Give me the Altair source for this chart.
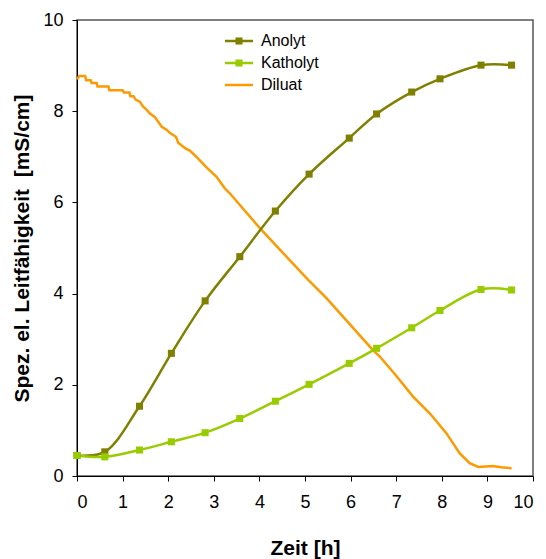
import altair as alt
import pandas as pd

# --- data ---
t_pts = [0, 0.61, 1.37, 2.07, 2.81, 3.57, 4.35, 5.09, 5.97, 6.57, 7.34, 7.96, 8.86, 9.53]
anolyt = [0.45, 0.53, 1.53, 2.69, 3.84, 4.81, 5.81, 6.62, 7.41, 7.94, 8.42, 8.71, 9.01, 9.01]
katholyt = [0.45, 0.42, 0.57, 0.75, 0.95, 1.26, 1.64, 2.01, 2.47, 2.80, 3.25, 3.63, 4.09, 4.08]

t_dil = [0.0, 0.05, 0.18, 0.2, 0.3, 0.32, 0.43, 0.45, 0.69, 0.71, 1.0, 1.03, 1.15, 1.17,
         1.24, 1.29, 1.38, 1.44, 1.53, 1.6, 1.71, 1.78, 1.86, 1.97, 2.04, 2.17, 2.22,
         2.37, 2.48, 2.62, 2.84, 3.06, 3.24, 3.35, 3.6, 4.05, 4.5, 5.07, 5.47, 6.0,
         6.49, 6.64, 7.0, 7.37, 7.74, 8.1, 8.39, 8.61, 8.8, 9.12, 9.3, 9.53]
diluat = [8.70, 8.77, 8.77, 8.68, 8.68, 8.62, 8.62, 8.54, 8.54, 8.46, 8.46, 8.41, 8.41, 8.33,
          8.33, 8.25, 8.21, 8.11, 8.03, 7.95, 7.87, 7.77, 7.66, 7.59, 7.52, 7.44, 7.31,
          7.19, 7.13, 7.0, 6.77, 6.56, 6.31, 6.2, 5.91, 5.39, 4.91, 4.3, 3.9, 3.31,
          2.76, 2.62, 2.2, 1.74, 1.37, 0.94, 0.50, 0.28, 0.20, 0.22, 0.19, 0.17]

series_names = ["Anolyt", "Katholyt", "Diluat"]
series_colors = ["#808000", "#99CC00", "#FF9900"]

FONT = "Liberation Sans"

df_pts = pd.concat([
    pd.DataFrame({"t": t_pts, "v": anolyt, "s": "Anolyt"}),
    pd.DataFrame({"t": t_pts, "v": katholyt, "s": "Katholyt"}),
])
df_dil = pd.DataFrame({"t": t_dil, "v": diluat, "s": "Diluat"})

color_scale = alt.Scale(domain=series_names, range=series_colors)

x_enc = alt.X("t:Q", scale=alt.Scale(domain=[0, 10], nice=False),
              axis=alt.Axis(title="Zeit [h]", values=list(range(0, 11)), grid=False,
                            tickSize=5, labelPadding=12, titlePadding=26,
                            labelFontSize=18, titleFontSize=21, titleFontWeight="bold",
                            labelFont=FONT, titleFont=FONT, domainColor="black",
                            tickColor="black", labelColor="black", titleColor="black"))
y_enc = alt.Y("v:Q", scale=alt.Scale(domain=[0, 10], nice=False),
              axis=alt.Axis(title="Spez. el. Leitfähigkeit\u00a0\u00a0[mS/cm]",
                            values=list(range(0, 11, 2)),
                            grid=False, tickSize=5, labelPadding=9, titlePadding=10,
                            labelFontSize=18, titleFontSize=21, titleFontWeight="bold",
                            labelFont=FONT, titleFont=FONT, domainColor="black",
                            tickColor="black", labelColor="black", titleColor="black"))

color_enc = alt.Color("s:N", scale=color_scale, legend=None)

dil_line = alt.Chart(df_dil).mark_line(strokeWidth=2.5).encode(
    x=x_enc, y=y_enc, color=color_enc)

pts_line = alt.Chart(df_pts).mark_line(strokeWidth=2.5, interpolate="catmull-rom").encode(
    x=x_enc, y=y_enc, color=color_enc, detail="s:N")

pts_marks = alt.Chart(df_pts).mark_point(shape="square", filled=True, size=50, opacity=1).encode(
    x=x_enc, y=y_enc, color=color_enc)

# manual legend (inside plot area)
legend_layers = []
row_y = [21, 43, 65]
for i, (name, col) in enumerate(zip(series_names, series_colors)):
    legend_layers.append(
        alt.Chart(pd.DataFrame({"s": [name]})).mark_rule(color=col, strokeWidth=2.5).encode(
            x=alt.value(148), x2=alt.value(176), y=alt.value(row_y[i])))
    if name != "Diluat":
        legend_layers.append(
            alt.Chart(pd.DataFrame({"s": [name]})).mark_point(
                shape="square", filled=True, size=50, opacity=1, color=col).encode(
                x=alt.value(162), y=alt.value(row_y[i])))
    legend_layers.append(
        alt.Chart(pd.DataFrame({"s": [name]})).mark_text(
            align="left", baseline="middle", font=FONT, fontSize=16, color="black").encode(
            x=alt.value(184), y=alt.value(row_y[i]), text="s:N"))

chart = alt.layer(dil_line, pts_line, pts_marks, *legend_layers).properties(
    width=456, height=456,
    autosize=alt.AutoSizeParams(type="none"),
    padding={"left": 77, "top": 20, "right": 13, "bottom": 83},
).configure_view(stroke="#555555", strokeWidth=1.5)

chart.save("out.html", embed_options={"renderer": "svg", "actions": False})
